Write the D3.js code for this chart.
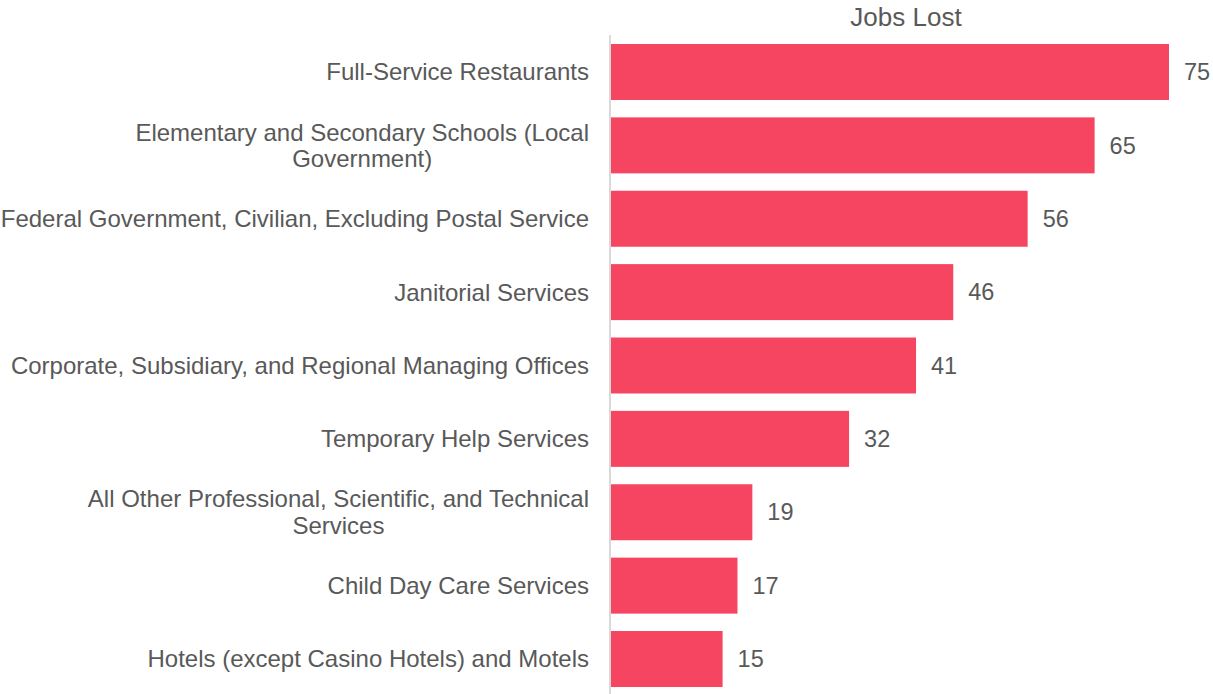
<!DOCTYPE html>
<html>
<head>
<meta charset="utf-8">
<script src="https://cdn.jsdelivr.net/npm/d3@7"></script>
<style>
  html, body { margin: 0; padding: 0; background: #ffffff; }
  svg text { font-family: "Liberation Sans", Arial, sans-serif; fill: #595959; }
</style>
</head>
<body>
<svg id="chart" width="1213" height="694"></svg>
<script>
// Industries, each label split into its display lines
const categories = [
  ["Full-Service Restaurants"],
  ["Elementary and Secondary Schools (Local", "Government)"],
  ["Federal Government, Civilian, Excluding Postal Service"],
  ["Janitorial Services"],
  ["Corporate, Subsidiary, and Regional Managing Offices"],
  ["Temporary Help Services"],
  ["All Other Professional, Scientific, and Technical", "Services"],
  ["Child Day Care Services"],
  ["Hotels (except Casino Hotels) and Motels"]
];
const jobsLost = [75, 65, 56, 46, 41, 32, 19, 17, 15];
const seriesName = "Jobs Lost";

const svg = d3.select("#chart");
const xLeft = 611, xRight = 1169;
const labelRight = 589;
const fontSize = 24;

const idx = d3.range(categories.length);
const y = d3.scaleBand().domain(idx).range([35.3, 695.7]).paddingInner(0.237).paddingOuter(0.1185);
const x = d3.scaleLinear().domain([0, 75]).range([xLeft, xRight]);

// series title
svg.append("text")
  .attr("x", 906).attr("y", 26)
  .attr("text-anchor", "middle")
  .style("font-size", "26px")
  .text(seriesName);

// bars
svg.append("g").selectAll("rect").data(idx).join("rect")
  .attr("x", x(0))
  .attr("y", i => y(i))
  .attr("width", i => x(jobsLost[i]) - x(0))
  .attr("height", y.bandwidth())
  .attr("fill", "#F64561");

// category axis line
svg.append("line")
  .attr("x1", 610).attr("x2", 610)
  .attr("y1", y.range()[0]).attr("y2", y.range()[1])
  .attr("stroke", "#d9d9d9").attr("stroke-width", 2);

// category labels: block right-aligned, lines centred within the block
const labelG = svg.append("g");
idx.forEach(i => {
  const lines = categories[i];
  const g = labelG.append("g");
  const cy = y(i) + y.bandwidth() / 2;
  const lh = 26.5;
  const texts = lines.map((ln, k) => g.append("text")
    .style("font-size", fontSize + "px")
    .attr("dy", "0.35em")
    .attr("y", cy + (k - (lines.length - 1) / 2) * lh)
    .attr("text-anchor", "middle")
    .text(ln));
  const w = d3.max(texts, t => t.node().getComputedTextLength());
  texts.forEach(t => t.attr("x", labelRight - w / 2));
});

// value labels
svg.append("g").selectAll("text").data(idx).join("text")
  .attr("x", i => x(jobsLost[i]) + 15)
  .attr("y", i => y(i) + y.bandwidth() / 2)
  .attr("dy", "0.35em")
  .style("font-size", "23.5px")
  .text(i => jobsLost[i]);
</script>
</body>
</html>
